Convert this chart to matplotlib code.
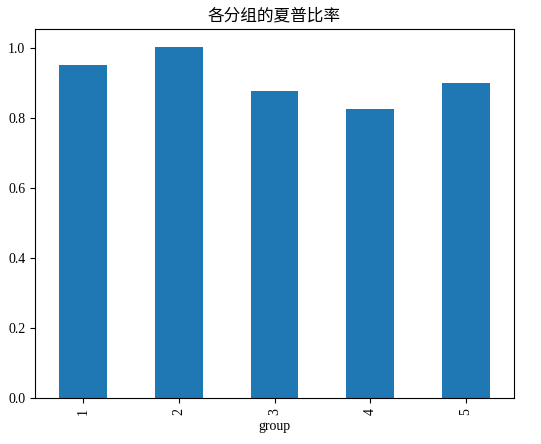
import matplotlib
matplotlib.use("Agg")
import matplotlib.pyplot as plt
import pandas as pd

groups = [1, 2, 3, 4, 5]
sharpe = [0.949, 1.003, 0.877, 0.826, 0.900]

plt.rcParams['font.family'] = ['Liberation Serif', 'Noto Sans CJK SC', 'DejaVu Sans']
plt.rcParams['font.size'] = 10

fig = plt.figure(figsize=(5.41, 4.44), dpi=100)
ax = fig.add_axes([35/541, 46/444, 479/541, 369/444])
s = pd.Series(sharpe, index=pd.Index(groups, name='group'))
s.plot(kind='bar', ax=ax, color='#1f77b4')
ax.set_title('各分组的夏普比率', fontsize=12)
ax.set_xlabel('group')
fig.savefig('out.png', dpi=100)
